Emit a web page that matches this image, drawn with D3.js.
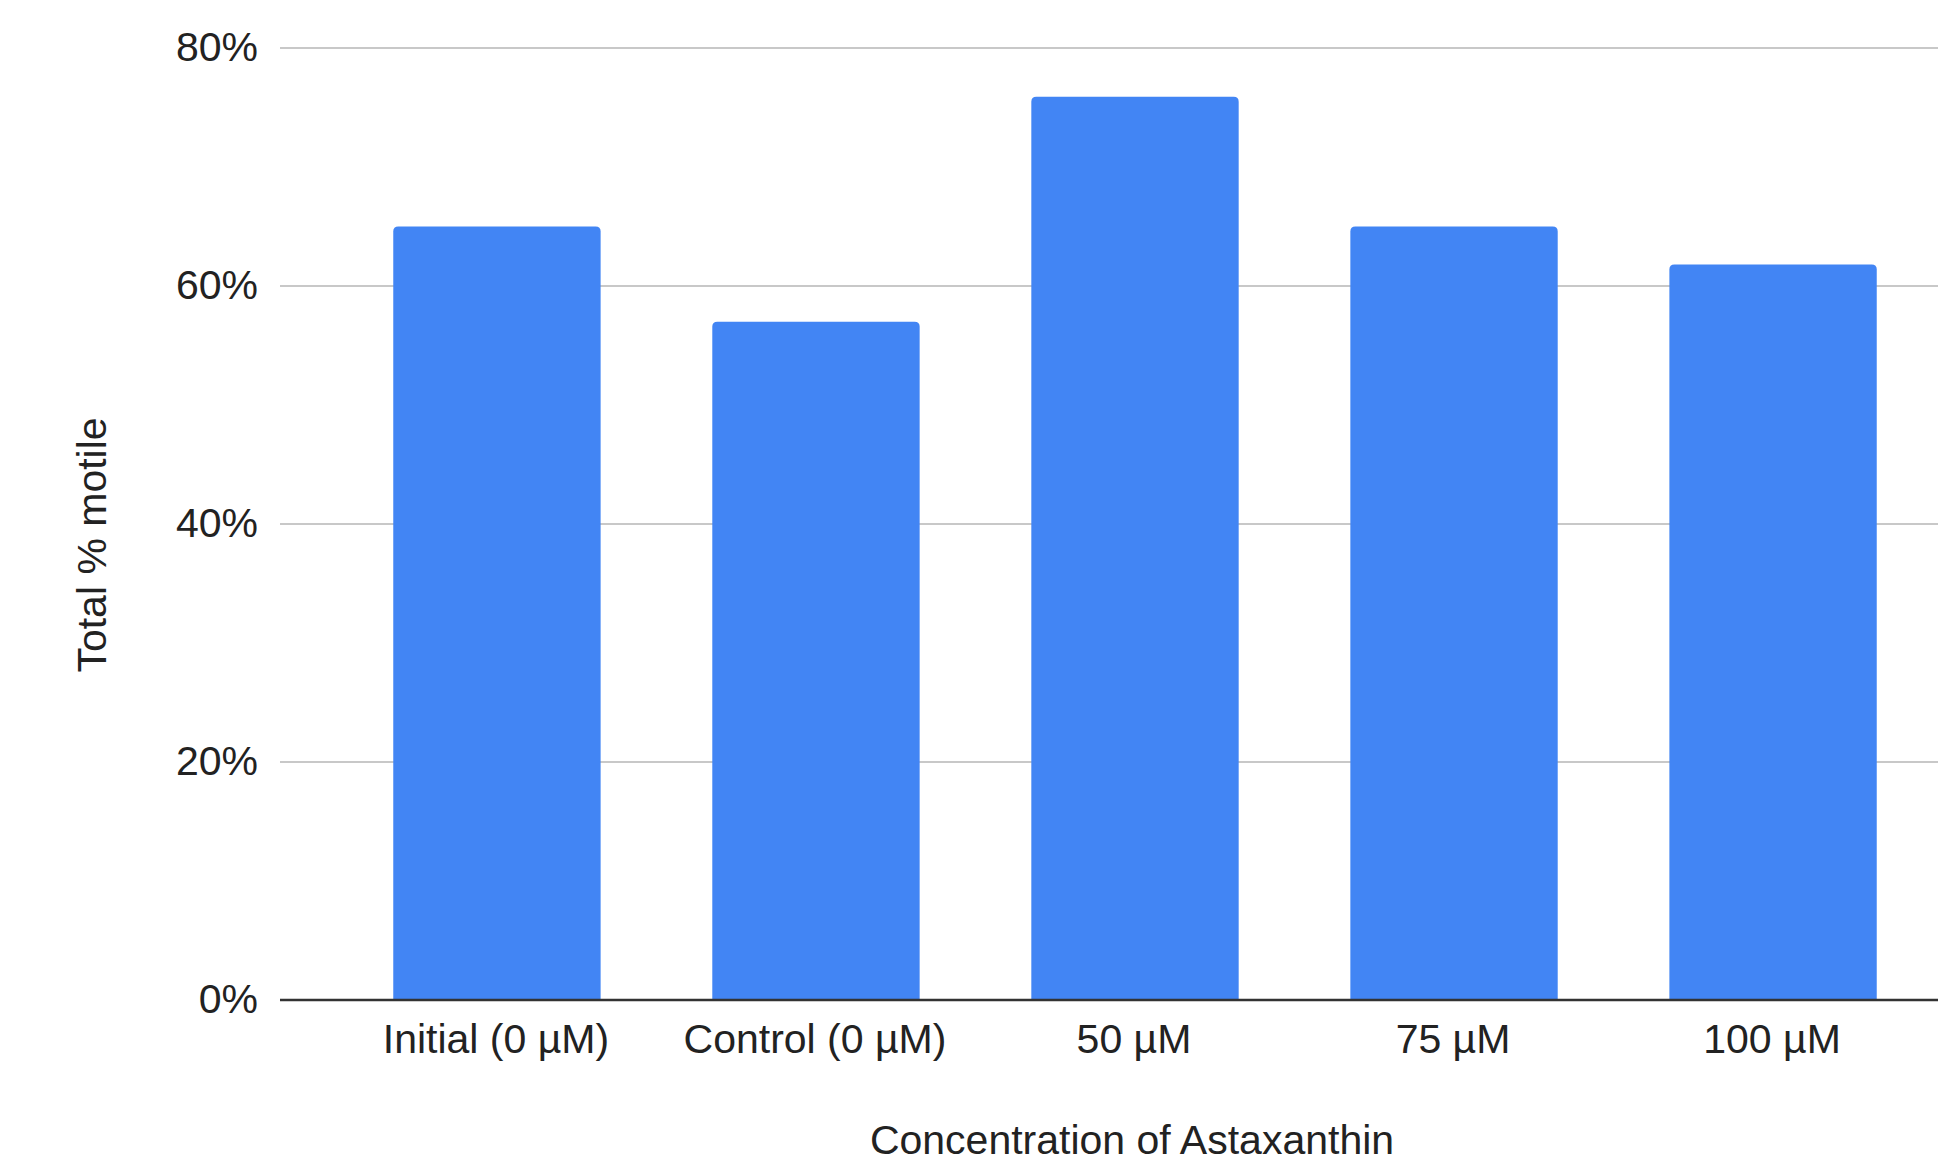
<!DOCTYPE html>
<html>
<head>
<meta charset="utf-8">
<script src="https://cdn.jsdelivr.net/npm/d3@7"></script>
<style>
  html, body { margin: 0; padding: 0; background: #fff; }
  svg { display: block; }
  text { font-family: "Liberation Sans", Arial, sans-serif; fill: #222; }
</style>
</head>
<body>
<script>
const categories = ["Initial (0 µM)", "Control (0 µM)", "50 µM", "75 µM", "100 µM"];
const values = [0.65, 0.57, 0.759, 0.65, 0.618];
const yTicks = [0, 0.2, 0.4, 0.6, 0.8];
const xTitle = "Concentration of Astaxanthin";
const yTitle = "Total % motile";

(function () {
const W = 1938, H = 1171;
const svg = d3.select("body").append("svg").attr("width", W).attr("height", H);

const plotLeft = 280, plotRight = 1990, plotTop = 48, plotBottom = 1000;

const x = d3.scaleBand().domain(categories).range([plotLeft, plotRight])
  .paddingInner(0.35).paddingOuter(0.355);
const y = d3.scaleLinear().domain([0, 0.8]).range([plotBottom, plotTop]);

// gridlines
svg.append("g").selectAll("line").data(yTicks.filter(d => d > 0)).join("line")
  .attr("x1", plotLeft).attr("x2", W)
  .attr("y1", d => y(d)).attr("y2", d => y(d))
  .attr("stroke", "#c8c8c8").attr("stroke-width", 2);

// bars with rounded top corners
const r = 5;
svg.append("g").selectAll("path").data(values).join("path")
  .attr("fill", "#4285f4")
  .attr("d", (d, i) => {
    const x0 = x(categories[i]), w = x.bandwidth();
    const y0 = y(d), y1 = y(0);
    return `M${x0},${y1}V${y0 + r}Q${x0},${y0} ${x0 + r},${y0}H${x0 + w - r}Q${x0 + w},${y0} ${x0 + w},${y0 + r}V${y1}Z`;
  });

// baseline
svg.append("line").attr("x1", plotLeft).attr("x2", W)
  .attr("y1", y(0)).attr("y2", y(0))
  .attr("stroke", "#333333").attr("stroke-width", 2.5);

// y tick labels
svg.append("g").selectAll("text").data(yTicks).join("text")
  .attr("x", 258).attr("y", d => y(d))
  .attr("dy", "0.31em")
  .attr("text-anchor", "end")
  .attr("font-size", 41)
  .text(d => d3.format(".0%")(d));

// x tick labels
svg.append("g").selectAll("text").data(categories).join("text")
  .attr("x", d => x(d) + x.bandwidth() / 2 - 1)
  .attr("y", 1053)
  .attr("text-anchor", "middle")
  .attr("font-size", 41)
  .text(d => d);

// axis titles
svg.append("text")
  .attr("x", (plotLeft + plotRight) / 2 - 3).attr("y", 1154)
  .attr("text-anchor", "middle")
  .attr("font-size", 41)
  .text(xTitle);

svg.append("text")
  .attr("transform", "translate(106,545) rotate(-90)")
  .attr("text-anchor", "middle")
  .attr("font-size", 41)
  .text(yTitle);
})();
</script>
</body>
</html>
